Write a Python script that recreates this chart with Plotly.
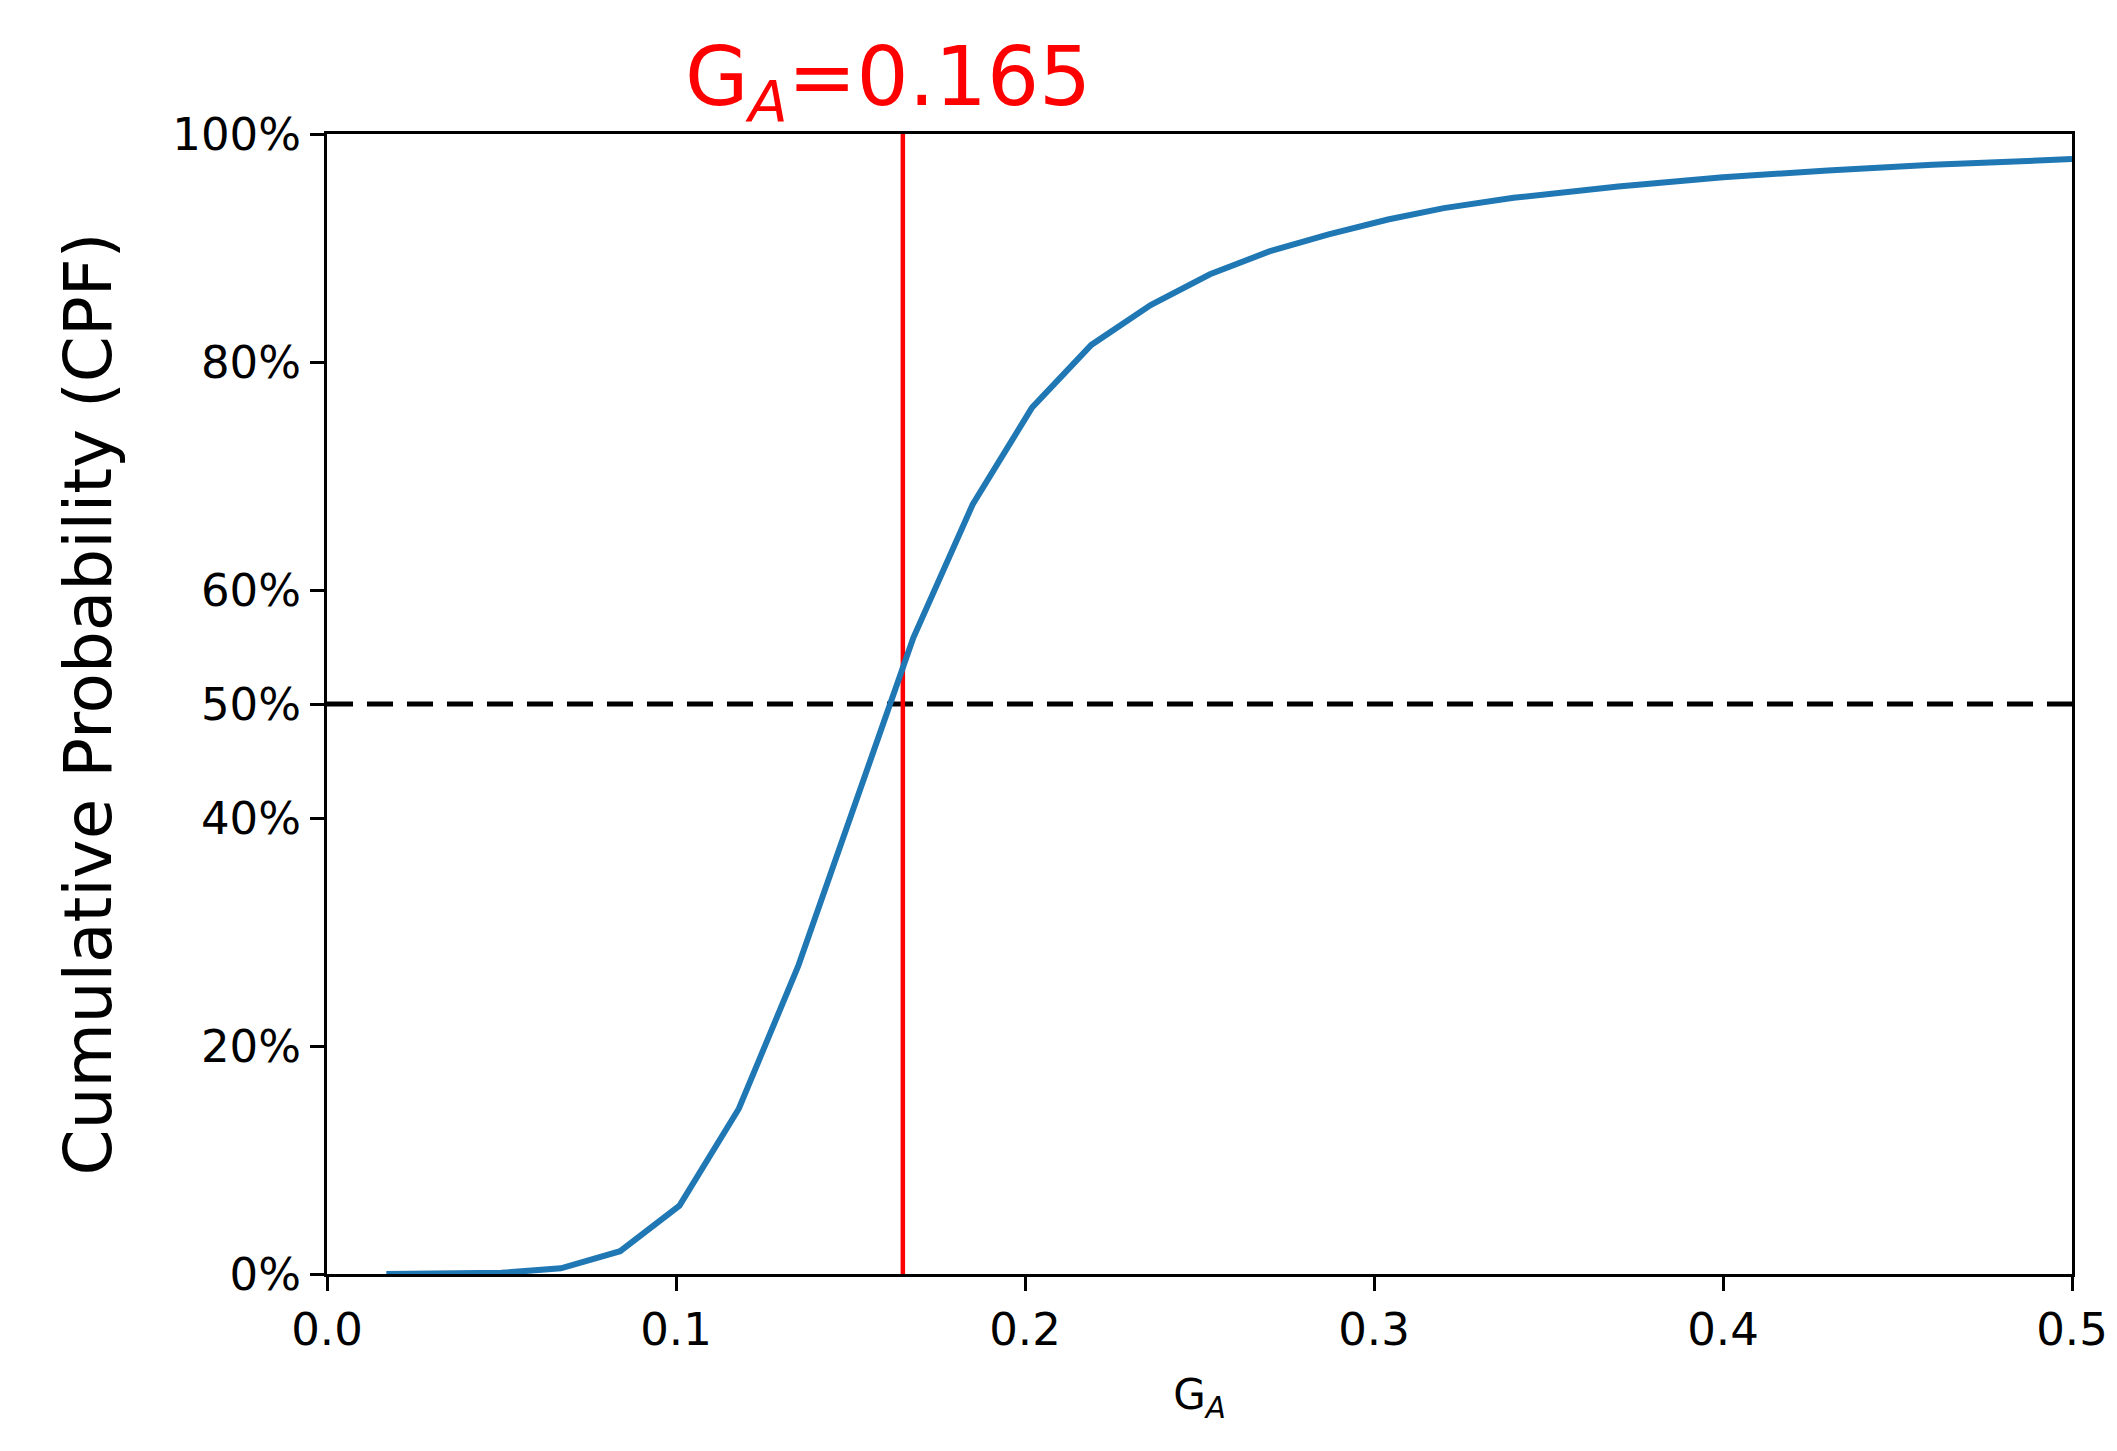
import plotly.graph_objects as go

ga = [0.017, 0.034, 0.05, 0.067, 0.084, 0.101, 0.118, 0.135, 0.151, 0.168, 0.185, 0.202,
      0.219, 0.236, 0.253, 0.27, 0.287, 0.304, 0.32, 0.34, 0.37, 0.4, 0.43, 0.46, 0.5]
cpf = [0.0, 0.0, 0.1, 0.5, 2.0, 6.0, 14.5, 27.0, 41.0, 55.8, 67.5, 76.0,
       81.5, 85.0, 87.7, 89.7, 91.2, 92.5, 93.5, 94.4, 95.4, 96.2, 96.8, 97.3, 97.8]
ga_median = 0.165
y_ticks = [0, 20, 40, 50, 60, 80, 100]
y_labels = ["0%", "20%", "40%", "50%", "60%", "80%", "100%"]
x_ticks = [0.0, 0.1, 0.2, 0.3, 0.4, 0.5]

fig = go.Figure()
fig.add_trace(go.Scatter(x=[0, 0.5], y=[50, 50], mode="lines",
                         line=dict(color="black", width=5, dash="26px,14px"), showlegend=False))
fig.add_trace(go.Scatter(x=[ga_median, ga_median], y=[0, 100], mode="lines",
                         line=dict(color="red", width=4.5), showlegend=False))
fig.add_trace(go.Scatter(x=ga, y=cpf, mode="lines",
                         line=dict(color="#1f77b4", width=6), showlegend=False))

fig.add_annotation(x=ga_median, y=1, xref="x", yref="paper", yanchor="bottom", showarrow=False,
                   text="G<sub><i>A</i></sub>=0.165", font=dict(size=82, color="red"),
                   xshift=-15, yshift=-4)

axis_common = dict(showgrid=False, zeroline=False, showline=True, linecolor="black", linewidth=3,
                   mirror=True, ticks="outside", ticklen=14, tickwidth=3, tickcolor="black",
                   tickfont=dict(size=45, color="black"))
fig.update_xaxes(range=[0, 0.5], tickvals=x_ticks, tickformat=".1f",
                 title=dict(text="G<sub><i>A</i></sub>", font=dict(size=42, color="black"), standoff=25),
                 **axis_common)
fig.update_yaxes(range=[0, 100], tickvals=y_ticks, ticktext=y_labels,
                 title=dict(text="Cumulative Probability (CPF)", font=dict(size=66, color="black"), standoff=40),
                 **axis_common)
fig.update_layout(width=2117, height=1451, plot_bgcolor="white", paper_bgcolor="white",
                  font=dict(family="DejaVu Sans"),
                  margin=dict(l=319, r=53, t=126, b=185))
fig.write_html("out.html")
